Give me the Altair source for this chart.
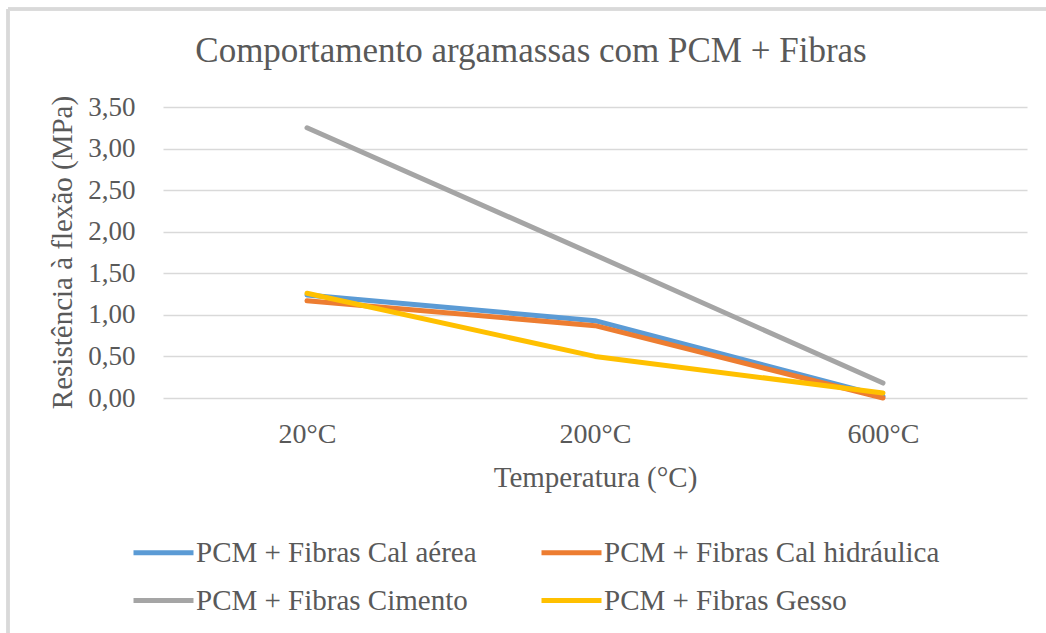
import altair as alt
import pandas as pd

# Flexural strength of PCM + fibre mortars after exposure to temperature
temperatures = ["20°C", "200°C", "600°C"]
series_names = [
    "PCM + Fibras Cal aérea",
    "PCM + Fibras Cal hidráulica",
    "PCM + Fibras Cimento",
    "PCM + Fibras Gesso",
]
cal_aerea = [1.24, 0.93, 0.02]
cal_hidraulica = [1.17, 0.87, 0.00]
cimento = [3.25, 1.72, 0.18]
gesso = [1.26, 0.50, 0.06]
series_colors = ["#5B9BD5", "#ED7D31", "#A5A5A5", "#FFC000"]
y_ticks = [0, 0.5, 1.0, 1.5, 2.0, 2.5, 3.0, 3.5]

rows = []
for order, (name, values) in enumerate(
    zip(series_names, [cal_aerea, cal_hidraulica, cimento, gesso])
):
    for t, v in zip(temperatures, values):
        rows.append({"Temperatura": t, "Resistencia": v, "Serie": name, "ordem": order})
df = pd.DataFrame(rows)

FONT = "'Times New Roman', 'Liberation Serif', 'DejaVu Serif', serif"
TEXT = "#595959"
GRID = "#D9D9D9"

W, H = 864, 291
PAD_L, PAD_T, PAD_R, PAD_B = 163, 107, 19, 235

lines = (
    alt.Chart(df)
    .mark_line(strokeWidth=5, strokeCap="round", strokeJoin="round")
    .encode(
        x=alt.X(
            "Temperatura:N",
            sort=temperatures,
            scale=alt.Scale(type="point", padding=0.5),
            axis=alt.Axis(
                title="Temperatura (°C)",
                labelAngle=0,
                labelFontSize=28,
                labelPadding=22,
                ticks=False,
                domain=False,
                grid=False,
                titleFontSize=29,
                titleFontWeight="normal",
                titleY=79,
                titleBaseline="middle",
            ),
        ),
        y=alt.Y(
            "Resistencia:Q",
            scale=alt.Scale(domain=[0, 3.5], nice=False),
            axis=alt.Axis(
                title="Resistência à flexão (MPa)",
                values=y_ticks,
                labelExpr="replace(format(datum.value, '.2f'), '.', ',')",
                labelFontSize=27,
                labelPadding=28,
                ticks=False,
                domain=False,
                grid=True,
                gridColor=GRID,
                gridWidth=1.5,
                titleFontSize=29,
                titleFontWeight="normal",
                titleAngle=270,
                titleX=-101,
                titleY=145,
                titleAlign="center",
                titleBaseline="middle",
            ),
        ),
        color=alt.Color(
            "Serie:N",
            scale=alt.Scale(domain=series_names, range=series_colors),
            legend=alt.Legend(
                title=None,
                orient="none",
                direction="horizontal",
                legendX=-32,
                legendY=413,
                columns=2,
                columnPadding=54,
                rowPadding=0,
                symbolType="stroke",
                symbolSize=3600,
                symbolStrokeWidth=5,
                labelFontSize=29,
                labelOffset=0,
                labelLimit=600,
                padding=0,
            ),
        ),
        order=alt.Order("ordem:Q"),
        detail="Serie:N",
    )
)

# Outer frame of the chart area
frame_left = alt.Chart(df).mark_rule(color=GRID, strokeWidth=2.5).encode(
    x=alt.value(-155), y=alt.value(-98), y2=alt.value(H + PAD_B)
)
frame_top = alt.Chart(df).mark_rule(color=GRID, strokeWidth=2.5).encode(
    x=alt.value(-155), x2=alt.value(W + PAD_R), y=alt.value(-98)
)

chart = (
    alt.layer(frame_left, frame_top, lines)
    .properties(
        width=W,
        height=H,
        title=alt.TitleParams(
            "Comportamento argamassas com PCM + Fibras",
            fontSize=35,
            font=FONT,
            color=TEXT,
            fontWeight="normal",
            anchor="middle",
            dx=-64,
            offset=-61,
        ),
        autosize=alt.AutoSizeParams(type="none"),
        padding={"left": PAD_L, "top": PAD_T, "right": PAD_R, "bottom": PAD_B},
        background="white",
    )
    .configure_view(stroke=None)
    .configure_axis(labelFont=FONT, titleFont=FONT, labelColor=TEXT, titleColor=TEXT)
    .configure_legend(labelFont=FONT, labelColor=TEXT)
)

chart.save("out.html", embed_options={"renderer": "svg", "actions": False})
